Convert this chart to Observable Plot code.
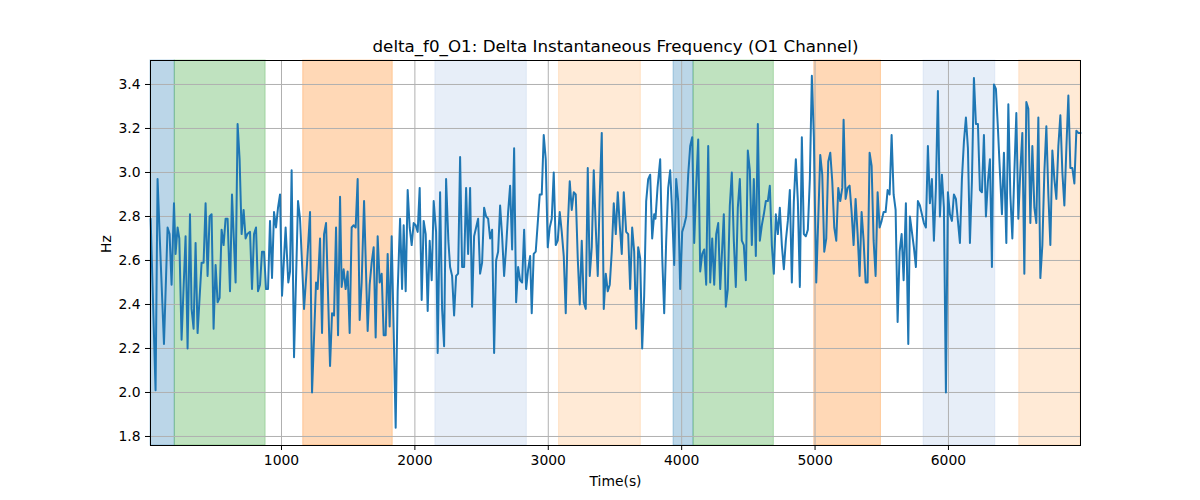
<!DOCTYPE html>
<html>
<head>
<meta charset="utf-8">
<script src="https://cdn.jsdelivr.net/npm/d3@7"></script>
<script src="https://cdn.jsdelivr.net/npm/@observablehq/plot@0.6"></script>
<style>
  html, body { margin: 0; padding: 0; background: white; }
</style>
</head>
<body>
<div id="chart"></div>
<script>
const titleText = "delta_f0_O1: Delta Instantaneous Frequency (O1 Channel)";
const xLabel = "Time(s)";
const yLabel = "Hz";

const xTicks = [1000, 2000, 3000, 4000, 5000, 6000];
const yTicks = [1.8, 2.0, 2.2, 2.4, 2.6, 2.8, 3.0, 3.2, 3.4];

const bandStarts = [18, 200, 1163, 2154, 3081, 3939, 4089, 4994, 5814, 6531];
const bandEnds   = [200, 881, 1834, 2839, 3694, 4089, 4691, 5494, 6351, 6990];
const bandKinds  = ["blue", "green", "orange", "lightblue", "lightorange", "blue", "green", "orange", "lightblue", "lightorange"];

const times = [
  19, 56, 71, 89, 119, 146, 161, 176, 194, 206, 221, 234, 251, 281, 296, 314, 326, 341, 356, 371,
  401, 416, 431, 446, 461, 476, 491, 506, 521, 536, 551, 566, 581, 596, 614, 629, 656, 671, 686, 701,
  716, 731, 744, 764, 779, 794, 809, 824, 839, 854, 869, 884, 899, 914, 929, 944, 959, 974, 989, 1004,
  1031, 1051, 1064, 1076, 1094, 1124, 1139, 1169, 1189, 1214, 1229, 1259, 1271, 1289, 1304, 1319, 1334, 1364, 1379, 1394,
  1409, 1424, 1439, 1451, 1466, 1481, 1496, 1511, 1526, 1541, 1556, 1571, 1586, 1601, 1619, 1646, 1661, 1676, 1691, 1706,
  1721, 1736, 1751, 1766, 1781, 1796, 1811, 1826, 1841, 1856, 1871, 1889, 1904, 1916, 1931, 1946, 1961, 1976, 1991, 2006,
  2021, 2036, 2051, 2066, 2081, 2096, 2111, 2126, 2141, 2159, 2171, 2189, 2204, 2219, 2234, 2251, 2264, 2279, 2294, 2309,
  2324, 2339, 2354, 2369, 2384, 2399, 2414, 2429, 2444, 2459, 2474, 2489, 2504, 2519, 2534, 2549, 2564, 2579, 2594, 2609,
  2624, 2639, 2654, 2669, 2684, 2699, 2714, 2729, 2744, 2759, 2774, 2789, 2804, 2819, 2834, 2849, 2864, 2876, 2891, 2906,
  2921, 2936, 2951, 2966, 2981, 2996, 3011, 3026, 3041, 3056, 3071, 3086, 3101, 3116, 3131, 3146, 3161, 3176, 3191, 3206,
  3221, 3236, 3251, 3266, 3281, 3296, 3311, 3326, 3341, 3356, 3371, 3386, 3401, 3416, 3431, 3446, 3461, 3476, 3491, 3506,
  3521, 3536, 3551, 3566, 3584, 3599, 3614, 3629, 3644, 3659, 3674, 3689, 3704, 3719, 3734, 3749, 3764, 3779, 3794, 3804,
  3819, 3839, 3854, 3869, 3884, 3899, 3914, 3929, 3944, 3959, 3974, 3989, 4004, 4019, 4034, 4049, 4064, 4079, 4094, 4109,
  4124, 4139, 4154, 4169, 4184, 4199, 4214, 4229, 4244, 4259, 4274, 4289, 4301, 4316, 4331, 4346, 4361, 4376, 4391, 4406,
  4421, 4436, 4451, 4466, 4481, 4496, 4511, 4526, 4541, 4556, 4571, 4586, 4601, 4616, 4631, 4646, 4661, 4676, 4691, 4706,
  4721, 4736, 4751, 4766, 4781, 4796, 4811, 4826, 4841, 4856, 4871, 4886, 4901, 4916, 4931, 4946, 4961, 4976, 4991, 4999,
  5009, 5024, 5039, 5054, 5069, 5084, 5099, 5114, 5129, 5144, 5159, 5174, 5189, 5204, 5214, 5229, 5244, 5259, 5274, 5289,
  5304, 5319, 5334, 5349, 5364, 5379, 5394, 5409, 5424, 5439, 5454, 5469, 5484, 5499, 5514, 5529, 5544, 5559, 5574, 5589,
  5604, 5619, 5634, 5649, 5664, 5681, 5699, 5711, 5726, 5741, 5756, 5771, 5786, 5801, 5816, 5831, 5846, 5861, 5876, 5891,
  5906, 5921, 5936, 5951, 5966, 5981, 5996, 6011, 6026, 6041, 6056, 6071, 6086, 6101, 6116, 6131, 6146, 6161, 6176, 6191,
  6206, 6221, 6236, 6251, 6266, 6281, 6296, 6311, 6326, 6341, 6356, 6371, 6386, 6401, 6416, 6434, 6449, 6464, 6479, 6494,
  6509, 6524, 6539, 6554, 6569, 6584, 6599, 6614, 6629, 6644, 6659, 6674, 6689, 6704, 6719, 6734, 6749, 6764, 6779, 6794,
  6809, 6824, 6839, 6854, 6869, 6884, 6899, 6914, 6929, 6944, 6959, 6974, 6990
];

const hz = [
  2.79, 2.01, 2.97, 2.68, 2.22, 2.75, 2.72, 2.49, 2.86, 2.63, 2.75, 2.70, 2.24, 2.71, 2.20, 2.81, 2.38, 2.29, 2.68, 2.27,
  2.59, 2.59, 2.86, 2.53, 2.80, 2.81, 2.29, 2.58, 2.41, 2.43, 2.74, 2.67, 2.79, 2.79, 2.46, 2.90, 2.50, 3.22, 3.06, 2.72,
  2.83, 2.70, 2.72, 2.73, 2.47, 2.72, 2.75, 2.46, 2.49, 2.64, 2.64, 2.47, 2.47, 2.78, 2.52, 2.82, 2.75, 2.84, 2.90, 2.44,
  2.75, 2.50, 2.55, 3.01, 2.16, 2.87, 2.79, 2.38, 2.56, 2.82, 2.00, 2.50, 2.47, 2.70, 2.27, 2.72, 2.77, 2.12, 2.36, 2.35,
  2.75, 2.26, 2.89, 2.48, 2.56, 2.47, 2.55, 2.27, 2.75, 2.76, 2.75, 2.97, 2.33, 2.50, 2.87, 2.28, 2.49, 2.59, 2.66, 2.25,
  2.71, 2.50, 2.54, 2.26, 2.26, 2.63, 2.30, 2.71, 2.28, 1.84, 2.46, 2.79, 2.47, 2.76, 2.46, 2.92, 2.75, 2.67, 2.77, 2.76,
  2.73, 2.93, 2.42, 2.78, 2.72, 2.37, 2.69, 2.51, 2.87, 2.73, 2.18, 2.91, 2.38, 2.21, 2.97, 2.69, 2.57, 2.53, 2.35, 2.53,
  2.54, 3.07, 2.57, 2.57, 2.93, 2.63, 2.93, 2.39, 2.71, 2.75, 2.79, 2.54, 2.59, 2.84, 2.80, 2.79, 2.70, 2.74, 2.18, 2.60,
  2.64, 2.85, 2.71, 2.53, 2.66, 2.82, 2.94, 2.65, 3.11, 2.41, 2.57, 2.51, 2.50, 2.74, 2.47, 2.56, 2.62, 2.36, 2.63, 2.64,
  2.77, 2.90, 2.90, 3.17, 3.06, 2.66, 2.75, 2.79, 3.00, 2.67, 2.69, 2.82, 2.73, 2.62, 2.36, 2.75, 2.96, 2.83, 2.91, 2.90,
  2.61, 2.40, 2.69, 2.41, 2.38, 3.02, 2.53, 2.66, 3.01, 2.75, 2.53, 2.90, 3.18, 2.38, 2.54, 2.46, 2.49, 2.64, 2.86, 2.72,
  2.91, 2.76, 2.63, 2.91, 2.73, 2.72, 2.47, 2.75, 2.64, 2.29, 2.66, 2.61, 2.20, 2.44, 2.87, 2.97, 2.99, 2.70, 2.81, 2.79,
  2.93, 3.06, 2.62, 2.36, 2.69, 2.93, 3.01, 2.81, 2.58, 2.97, 2.87, 2.47, 2.73, 2.76, 2.80, 2.99, 3.12, 3.16, 2.68, 2.94,
  3.15, 2.55, 2.63, 2.65, 2.49, 3.12, 2.50, 2.70, 2.49, 2.72, 2.77, 2.47, 2.62, 2.81, 2.39, 2.47, 2.85, 3.00, 2.69, 2.48,
  2.84, 2.97, 2.69, 2.67, 2.51, 3.10, 3.01, 2.67, 2.97, 2.62, 3.22, 2.69, 2.76, 2.81, 2.87, 2.87, 2.94, 2.67, 2.54, 2.81,
  2.72, 2.84, 2.67, 2.56, 2.69, 2.78, 2.92, 2.50, 2.87, 3.06, 2.87, 2.48, 3.16, 2.72, 2.71, 2.74, 2.97, 3.44, 3.16, 2.85,
  2.50, 2.79, 3.08, 2.99, 2.64, 2.70, 3.05, 3.09, 2.96, 2.75, 2.69, 2.93, 2.87, 2.93, 3.24, 2.88, 2.93, 2.94, 2.82, 2.67,
  2.88, 2.72, 2.53, 2.82, 2.69, 2.50, 2.50, 3.09, 3.03, 2.69, 2.53, 2.91, 2.75, 2.78, 2.82, 2.82, 2.92, 2.90, 3.17, 2.90,
  2.83, 2.32, 2.64, 2.72, 2.51, 2.86, 2.22, 2.80, 2.73, 2.66, 2.57, 2.87, 2.85, 2.81, 2.77, 2.75, 3.12, 2.86, 2.97, 2.69,
  2.93, 3.37, 2.80, 2.99, 2.84, 2.00, 2.91, 2.81, 2.78, 2.90, 2.88, 2.78, 2.68, 2.97, 3.14, 3.25, 3.11, 2.68, 2.96, 3.43,
  3.22, 3.22, 2.92, 2.91, 3.17, 2.80, 2.96, 3.06, 2.57, 3.40, 3.38, 3.20, 3.00, 2.81, 3.09, 2.68, 3.31, 2.90, 2.70, 3.00,
  3.27, 2.79, 3.01, 3.18, 2.54, 3.32, 3.29, 2.77, 3.12, 2.84, 2.77, 3.25, 2.52, 2.67, 3.00, 3.21, 2.90, 2.67, 3.10, 2.97,
  2.88, 3.12, 3.26, 3.00, 2.85, 3.11, 3.35, 3.02, 3.02, 2.95, 3.19, 3.18, 3.18
];

// styling config (not data)
const bandColors = {
  blue: "#1f77b4",
  green: "#2ca02c",
  orange: "#ff7f0e",
  lightblue: "#aec7e8",
  lightorange: "#ffbb78"
};

const series = times.map((t, i) => ({t, v: hz[i]}));
const bands = bandStarts.map((s, i) => ({start: s, end: bandEnds[i], kind: bandKinds[i]}));

const chart = Plot.plot({
  width: 1200,
  height: 500,
  marginLeft: 150,
  marginRight: 120,
  marginTop: 60,
  marginBottom: 55,
  style: {fontFamily: "DejaVu Sans", fontSize: "13.9px", background: "white", color: "black"},
  x: {domain: [18, 6990], ticks: xTicks, tickSize: 5, tickPadding: 5, tickFormat: d3.format("d"), label: null},
  y: {domain: [1.759, 3.509], ticks: yTicks, tickSize: 5, tickPadding: 5, tickFormat: d3.format(".1f"), label: null},
  marks: [
    Plot.rect(bands, {
      x1: "start", x2: "end",
      fill: d => bandColors[d.kind], fillOpacity: 0.3,
      stroke: d => bandColors[d.kind], strokeOpacity: 0.3, strokeWidth: 1
    }),
    Plot.gridX(xTicks, {stroke: "#b0b0b0", strokeOpacity: 1, strokeWidth: 1}),
    Plot.gridY(yTicks, {stroke: "#b0b0b0", strokeOpacity: 1, strokeWidth: 1}),
    Plot.line(series, {x: "t", y: "v", stroke: "#1f77b4", strokeWidth: 2}),
    Plot.frame({stroke: "black", strokeWidth: 1}),
    Plot.axisX(xTicks, {tickSize: 5, tickPadding: 5, tickFormat: d3.format("d"), label: null, fontSize: 13.9}),
    Plot.axisY(yTicks, {tickSize: 5, tickPadding: 5, tickFormat: d3.format(".1f"), label: null, fontSize: 13.9}),
    Plot.text([titleText], {frameAnchor: "top", dy: -14, fontSize: 16.7, lineAnchor: "middle", fill: "black"}),
    Plot.text([xLabel], {frameAnchor: "bottom", dy: 36, fontSize: 13.9, lineAnchor: "middle", fill: "black"}),
    Plot.text([yLabel], {frameAnchor: "left", dx: -44, rotate: -90, fontSize: 13.9, lineAnchor: "middle", fill: "black"})
  ]
});

document.getElementById("chart").appendChild(chart);
</script>
</body>
</html>
